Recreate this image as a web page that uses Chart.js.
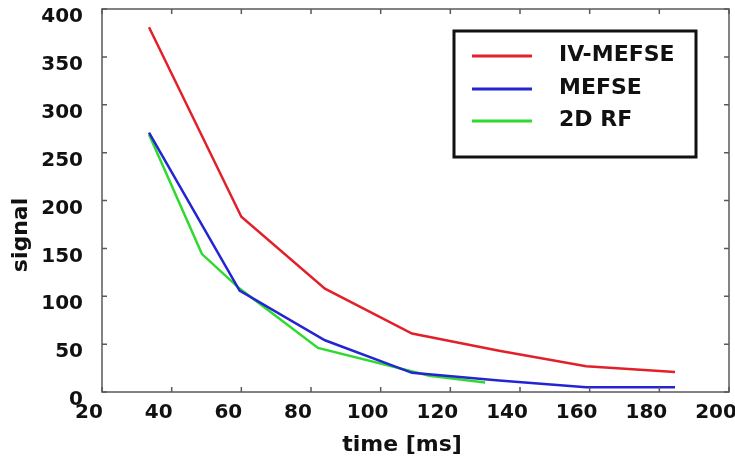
<!DOCTYPE html>
<html>
<head>
<meta charset="utf-8">
<script src="https://cdn.jsdelivr.net/npm/chart.js@4"></script>
<style>
  html, body { margin: 0; padding: 0; background: #fff; }
  canvas { display: block; }
</style>
</head>
<body>
<canvas id="signalChart" width="735" height="464"></canvas>
<script>
// echo times (ms) and signal for each sequence
var ivTime = [33.5, 60, 84, 109, 134, 159, 184.5];
var ivSignal = [381, 183, 108, 61, 43, 27, 21];
var mefseTime = [33.5, 59.5, 84, 109, 134, 159, 184.5];
var mefseSignal = [271, 106, 54, 20, 12, 5, 5];
var rfTime = [33.5, 48.7, 59.5, 82, 114, 130];
var rfSignal = [269, 144, 108, 46, 17, 10];

var seriesNames = ['IV-MEFSE', 'MEFSE', '2D RF'];
var seriesColors = ['#e3202a', '#2424d2', '#2fda2f'];

var xTicks = [20, 40, 60, 80, 100, 120, 140, 160, 180, 200];
var yTicks = [0, 50, 100, 150, 200, 250, 300, 350, 400];

function toPoints(xs, ys) {
    return xs.map(function (x, i) { return { x: x, y: ys[i] }; });
}

var frameColor = '#5a5a5a';
var textFont = 'bold 22px "DejaVu Sans"';

// frame with inward ticks, legend box and axis titles
var framePlugin = {
    id: 'framePlugin',
    afterDraw: function (chart) {
        var ctx = chart.ctx;
        var a = chart.chartArea;
        var xs = chart.scales.x, ys = chart.scales.y;
        ctx.save();
        ctx.strokeStyle = frameColor;
        ctx.lineWidth = 1.5;
        ctx.strokeRect(a.left, a.top, a.right - a.left, a.bottom - a.top);
        ctx.beginPath();
        xTicks.forEach(function (v) {
            var px = xs.getPixelForValue(v);
            ctx.moveTo(px, a.bottom); ctx.lineTo(px, a.bottom - 5);
            ctx.moveTo(px, a.top); ctx.lineTo(px, a.top + 5);
        });
        yTicks.forEach(function (v) {
            var py = ys.getPixelForValue(v);
            ctx.moveTo(a.left, py); ctx.lineTo(a.left + 5, py);
            ctx.moveTo(a.right, py); ctx.lineTo(a.right - 5, py);
        });
        ctx.stroke();

        // legend
        var lx = 454, ly = 31, lw = 242, lh = 126;
        ctx.fillStyle = '#fff';
        ctx.fillRect(lx, ly, lw, lh);
        ctx.strokeStyle = '#111';
        ctx.lineWidth = 3;
        ctx.strokeRect(lx, ly, lw, lh);
        var rows = [56, 89, 121];
        ctx.font = textFont;
        ctx.textBaseline = 'middle';
        ctx.textAlign = 'left';
        seriesNames.forEach(function (name, i) {
            ctx.strokeStyle = seriesColors[i];
            ctx.lineWidth = 3;
            ctx.beginPath();
            ctx.moveTo(472, rows[i]); ctx.lineTo(532, rows[i]);
            ctx.stroke();
            ctx.fillStyle = '#111';
            ctx.fillText(name, 559, rows[i] - 1);
        });

        // axis titles
        ctx.fillStyle = '#111';
        ctx.textAlign = 'center';
        ctx.textBaseline = 'middle';
        ctx.fillText('time [ms]', 402, 445);
        ctx.translate(21, 235);
        ctx.rotate(-Math.PI / 2);
        ctx.fillText('signal', 0, 0);
        ctx.restore();
    }
};

Chart.defaults.font.family = '"DejaVu Sans"';

var ctx = document.getElementById('signalChart').getContext('2d');
var signalChart = new Chart(ctx, {
    type: 'line',
    data: {
        datasets: [
            { label: seriesNames[0], data: toPoints(ivTime, ivSignal), borderColor: seriesColors[0] },
            { label: seriesNames[1], data: toPoints(mefseTime, mefseSignal), borderColor: seriesColors[1] },
            { label: seriesNames[2], data: toPoints(rfTime, rfSignal), borderColor: seriesColors[2] }
        ]
    },
    options: {
        responsive: false,
        animation: false,
        devicePixelRatio: 1,
        layout: { padding: { top: 9, right: 6, left: 0, bottom: 0 } },
        elements: {
            line: { borderWidth: 2.5, tension: 0, fill: false },
            point: { radius: 0 }
        },
        plugins: {
            legend: { display: false },
            tooltip: { enabled: false }
        },
        scales: {
            x: {
                type: 'linear',
                min: 20,
                max: 200,
                afterBuildTicks: function (scale) {
                    scale.ticks = xTicks.map(function (v) { return { value: v }; });
                },
                afterFit: function (scale) {
                    scale.height = 72;
                    scale.paddingLeft = 0;
                    scale.paddingRight = 0;
                },
                grid: { display: false },
                border: { display: false },
                ticks: {
                    color: '#111',
                    font: { size: 20, weight: 'bold' },
                    padding: 1,
                    labelOffset: -13,
                    maxRotation: 0,
                    autoSkip: false
                }
            },
            y: {
                min: 0,
                max: 400,
                afterBuildTicks: function (scale) {
                    scale.ticks = yTicks.map(function (v) { return { value: v }; });
                },
                afterFit: function (scale) {
                    scale.width = 102;
                    scale.paddingTop = 0;
                    scale.paddingBottom = 0;
                },
                grid: { display: false },
                border: { display: false },
                ticks: {
                    color: '#111',
                    font: { size: 20, weight: 'bold' },
                    padding: 11,
                    labelOffset: 8
                }
            }
        }
    },
    plugins: [framePlugin]
});
</script>
</body>
</html>
